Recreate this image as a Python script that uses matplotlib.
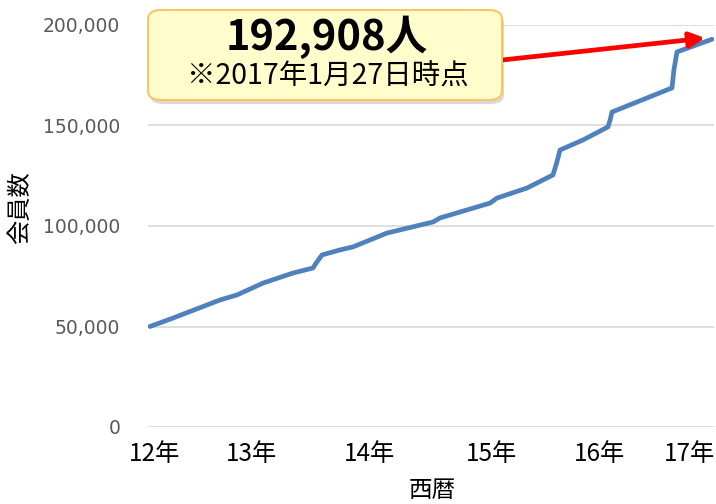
import matplotlib
matplotlib.use("Agg")
import matplotlib.pyplot as plt
from matplotlib.patches import FancyBboxPatch
from matplotlib.ticker import FuncFormatter

# membership count over time (x = position along the category axis)
pos = [0.0, 2.3, 7.0, 8.7, 11.3, 14.3, 16.3, 16.6, 17.2, 19.0, 20.3, 23.7,
       28.3, 29.0, 34.0, 34.7, 37.7, 40.3, 40.7, 41.0, 43.3, 45.8, 46.0,
       46.2, 52.2, 52.4, 52.7, 56.2]
members = [50000, 54200, 63200, 65700, 71600, 76600, 79100, 81500, 85600,
           88100, 89600, 96500, 102000, 104000, 111400, 113900, 118900,
           125400, 132000, 137800, 142800, 149300, 152500, 156700, 168700,
           178000, 186600, 192908]

year_pos = [0.5, 10.2, 22.0, 34.2, 44.9, 53.9]
year_labels = ["12年", "13年", "14年", "15年", "16年", "17年"]
y_ticks = [0, 50000, 100000, 150000, 200000]

CJK = ["Noto Sans CJK JP", "DejaVu Sans"]
plt.rcParams["font.family"] = CJK

W, H = 716, 504
fig = plt.figure(figsize=(W / 100, H / 100), dpi=100)
ax = fig.add_axes([148 / W, 1 - 427 / H, 566 / W, 402 / H])

ax.plot(pos, members, color="#4F81BD", linewidth=3.4,
        solid_joinstyle="round", solid_capstyle="round", zorder=3)

ax.set_xlim(-0.2, 56.4)
ax.set_ylim(0, 200000)
ax.set_yticks(y_ticks)
ax.yaxis.set_major_formatter(FuncFormatter(lambda v, _: f"{v:,.0f}"))
ax.set_xticks(year_pos)
ax.set_xticklabels(year_labels)
ax.grid(axis="y", color="#D9D9D9", linewidth=1.2)
ax.set_axisbelow(True)
for s in ax.spines.values():
    s.set_visible(False)
ax.tick_params(axis="y", length=0, pad=20, labelsize=13.5, labelcolor="#595959")
ax.tick_params(axis="x", length=0, pad=10, labelsize=17.5, labelcolor="black")
for t in ax.get_yticklabels():
    t.set_family("DejaVu Sans")

fig.text(20 / W, 1 - 208 / H, "会員数", rotation=90, ha="center", va="center",
         fontsize=17.5)
fig.text(432 / W, 2 / H, "西暦", ha="center", va="bottom", fontsize=17)

# ── callout box ───────────────────────────────────────────────────────────────
bx, by, bw, bh = 148 / W, 1 - 100 / H, 354 / W, 90 / H
shadow = FancyBboxPatch((bx + 2 / W, by - 4 / H), bw, bh,
                        boxstyle="round,pad=0,rounding_size=0.018",
                        transform=fig.transFigure, facecolor="#000000",
                        alpha=0.15, edgecolor="none", zorder=4)
box = FancyBboxPatch((bx, by), bw, bh,
                     boxstyle="round,pad=0,rounding_size=0.018",
                     transform=fig.transFigure, facecolor="#FFFDCC",
                     edgecolor="#F6C765", linewidth=1.5, zorder=5)
fig.patches.extend([shadow, box])

fig.text(327 / W, 1 - 37 / H, "192,908人", ha="center", va="center",
         fontsize=30, fontweight="bold", zorder=6)
fig.text(328 / W, 1 - 77 / H, "※2017年1月27日時点", ha="center", va="center",
         fontsize=20.5, zorder=6)

ax.annotate("", xy=(55.5, 193500), xycoords="data",
            xytext=(502 / W, 1 - 60 / H), textcoords="figure fraction",
            arrowprops=dict(arrowstyle="-|>,head_length=0.9,head_width=0.45",
                            color="#FF0000", linewidth=3.4,
                            shrinkA=0, shrinkB=0),
            annotation_clip=False, zorder=6)

fig.savefig("out.png", dpi=100)
